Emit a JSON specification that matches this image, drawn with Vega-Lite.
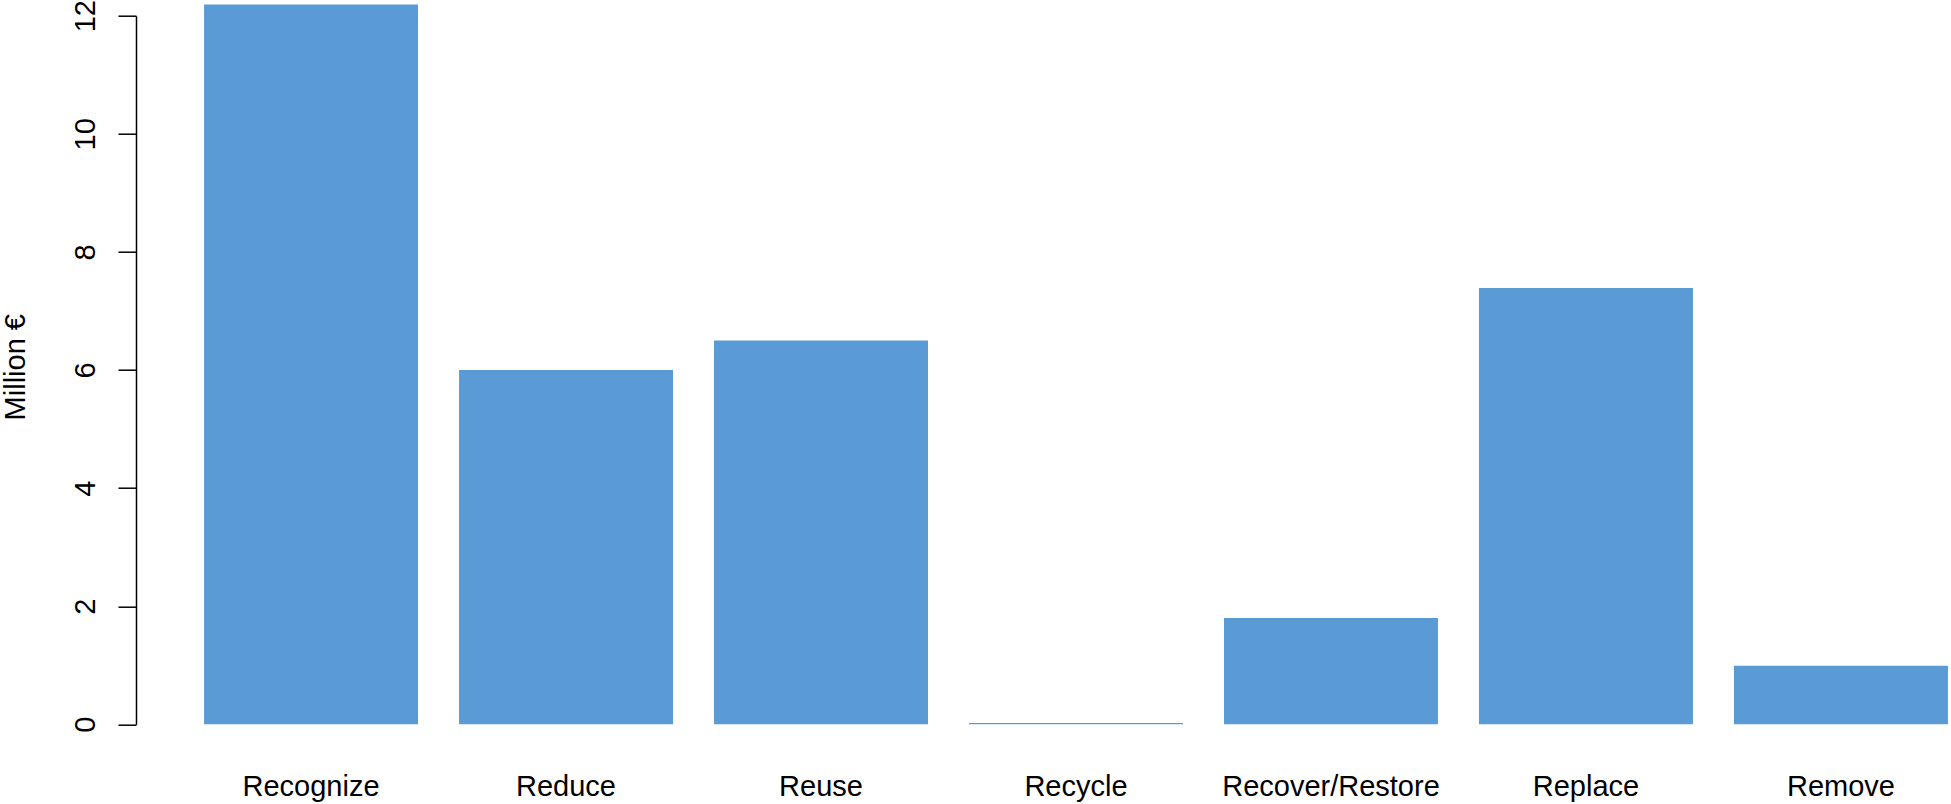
{
  "$schema": "https://vega.github.io/schema/vega-lite/v6.json",
  "autosize": "none",
  "width": 1749,
  "height": 708.6,
  "padding": {"left": 201.5, "top": 15.7, "right": 0, "bottom": 79.7},
  "background": "white",
  "config": {"view": {"stroke": null}, "font": "Liberation Sans"},
  "data": {
    "values": [
      {"category": "Recognize", "value": 12.19},
      {"category": "Reduce", "value": 6.0},
      {"category": "Reuse", "value": 6.5},
      {"category": "Recycle", "value": 0.02},
      {"category": "Recover/Restore", "value": 1.8},
      {"category": "Replace", "value": 7.39},
      {"category": "Remove", "value": 0.99}
    ]
  },
  "mark": {"type": "bar", "color": "#5B9BD5"},
  "encoding": {
    "x": {
      "field": "category",
      "type": "nominal",
      "sort": null,
      "scale": {"paddingInner": 0.1608, "paddingOuter": 0.01},
      "axis": {
        "title": null,
        "labelAngle": 0,
        "domain": false,
        "ticks": false,
        "tickSize": 0,
        "labelFontSize": 29,
        "labelColor": "black",
        "labelAlign": "center",
        "labelBaseline": "alphabetic",
        "labelPadding": 70.7,
        "labelLimit": 0,
        "labelOverlap": false,
        "labelFont": "Liberation Sans"
      }
    },
    "y": {
      "field": "value",
      "type": "quantitative",
      "scale": {"domain": [0, 12], "nice": false, "zero": true},
      "axis": {
        "title": "Million €",
        "offset": 65.5,
        "values": [0, 2, 4, 6, 8, 10, 12],
        "grid": false,
        "tickSize": 18,
        "tickWidth": 1.5,
        "tickColor": "black",
        "domainColor": "black",
        "domainWidth": 1.5,
        "labelAngle": -90,
        "labelAlign": "center",
        "labelBaseline": "alphabetic",
        "labelPadding": 24,
        "labelFontSize": 29,
        "labelColor": "black",
        "labelFont": "Liberation Sans",
        "labelFlush": false,
        "labelOverlap": false,
        "titleFont": "Liberation Sans",
        "titleFontSize": 29,
        "titleFontWeight": "normal",
        "titleColor": "black",
        "titleAngle": -90,
        "titleX": -111.5,
        "titleY": 351,
        "titleAlign": "center",
        "titleBaseline": "alphabetic"
      }
    }
  }
}
